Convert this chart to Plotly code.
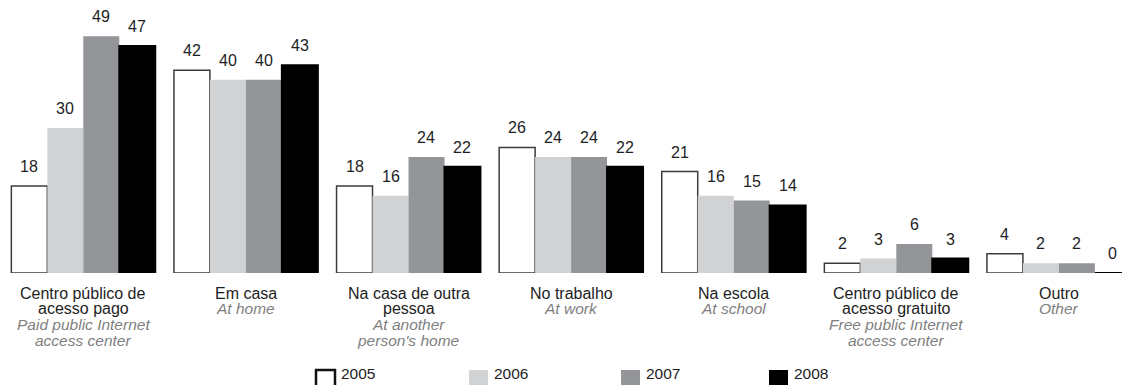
import plotly.graph_objects as go

# Local de acesso à Internet (% dos usuários)
categories_pt = [
    ["Centro público de", "acesso pago"],
    ["Em casa"],
    ["Na casa de outra", "pessoa"],
    ["No trabalho"],
    ["Na escola"],
    ["Centro público de", "acesso gratuito"],
    ["Outro"],
]
categories_en = [
    ["Paid public Internet", "access center"],
    ["At home"],
    ["At another", "person's home"],
    ["At work"],
    ["At school"],
    ["Free public Internet", "access center"],
    ["Other"],
]

years = ["2005", "2006", "2007", "2008"]
values_2005 = [18, 42, 18, 26, 21, 2, 4]
values_2006 = [30, 40, 16, 24, 16, 3, 2]
values_2007 = [49, 40, 24, 24, 15, 6, 2]
values_2008 = [47, 43, 22, 22, 14, 3, 0]
series = [values_2005, values_2006, values_2007, values_2008]

fills = ["#ffffff", "#d1d2d4", "#939598", "#000000"]
outlines = ["#3c3c3c", "#d1d2d4", "#939598", "#000000"]
outline_w = [1.5, 0, 0, 2]

FONT = "Liberation Sans, Arial, sans-serif"
W, H = 1122, 385
ML, MB = 2, 112
PLOT_W, PLOT_H = W - ML, H - MB
PX_PER_CAT = 162.6
PX_PER_UNIT = 4.83
BARGAP = 0.115

idx = list(range(len(categories_pt)))
cat_keys = [" ".join(c) for c in categories_pt]

fig = go.Figure()
for k, (yr, vals) in enumerate(zip(years, series)):
    fig.add_trace(go.Bar(
        x=cat_keys, y=vals, name=yr,
        marker=dict(color=fills[k], line=dict(color=outlines[k], width=outline_w[k])),
        showlegend=False, hoverinfo="x+y+name",
    ))

bar_w = (1 - BARGAP) / len(years)
annotations = []

# value labels above each bar
for k, vals in enumerate(series):
    off = (k - (len(years) - 1) / 2) * bar_w
    for i, v in zip(idx, vals):
        annotations.append(dict(
            x=i + off, y=v, xref="x", yref="y", text=str(v),
            showarrow=False, yanchor="bottom", yshift=9,
            font=dict(family=FONT, size=16, color="#1e1e1e"),
        ))

# category labels: Portuguese in black, English in grey italic
LINE_STEP = 15.9
for i in idx:
    lines = [(t, False) for t in categories_pt[i]] + [(t, True) for t in categories_en[i]]
    for n, (t, italic) in enumerate(lines):
        annotations.append(dict(
            x=i, y=0, xref="x", yref="paper",
            text=f"<i>{t}</i>" if italic else t,
            showarrow=False, yanchor="middle", yshift=-(20 + n * LINE_STEP),
            font=dict(family=FONT, size=15.5 if italic else 16,
                      color="#7f7f7f" if italic else "#1e1e1e"),
        ))

# legend drawn below the chart
shapes = []
LEG_X = [316, 469, 621, 769]
SQ_W = 19
SQ_TOP, SQ_BOT, LEG_TEXT_Y = 370, 388, 373


def px_x(px):
    return (px - ML) / PLOT_W


def px_y(py):
    return (PLOT_H - py) / PLOT_H


for k, yr in enumerate(years):
    x0 = LEG_X[k]
    shapes.append(dict(
        type="rect", xref="paper", yref="paper",
        x0=px_x(x0), x1=px_x(x0 + SQ_W), y0=px_y(SQ_BOT), y1=px_y(SQ_TOP),
        fillcolor=fills[k],
        line=dict(color="#111111" if k == 0 else fills[k], width=2.5 if k == 0 else 0),
    ))
    annotations.append(dict(
        x=px_x(x0 + SQ_W + 4), y=px_y(LEG_TEXT_Y), xref="paper", yref="paper",
        text=yr, showarrow=False, xanchor="left", yanchor="middle",
        font=dict(family=FONT, size=15.5, color="#1e1e1e"),
    ))

fig.update_layout(
    width=W, height=H,
    margin=dict(l=ML, r=0, t=0, b=MB, pad=0),
    barmode="group", bargap=BARGAP, bargroupgap=0,
    plot_bgcolor="white", paper_bgcolor="white",
    xaxis=dict(type="category", range=[-0.5, -0.5 + PLOT_W / PX_PER_CAT],
               showticklabels=False, showgrid=False, zeroline=False,
               showline=False, ticks=""),
    yaxis=dict(range=[0, PLOT_H / PX_PER_UNIT], visible=False),
    annotations=annotations, shapes=shapes,
    font=dict(family=FONT),
)

fig.write_html("out.html")
